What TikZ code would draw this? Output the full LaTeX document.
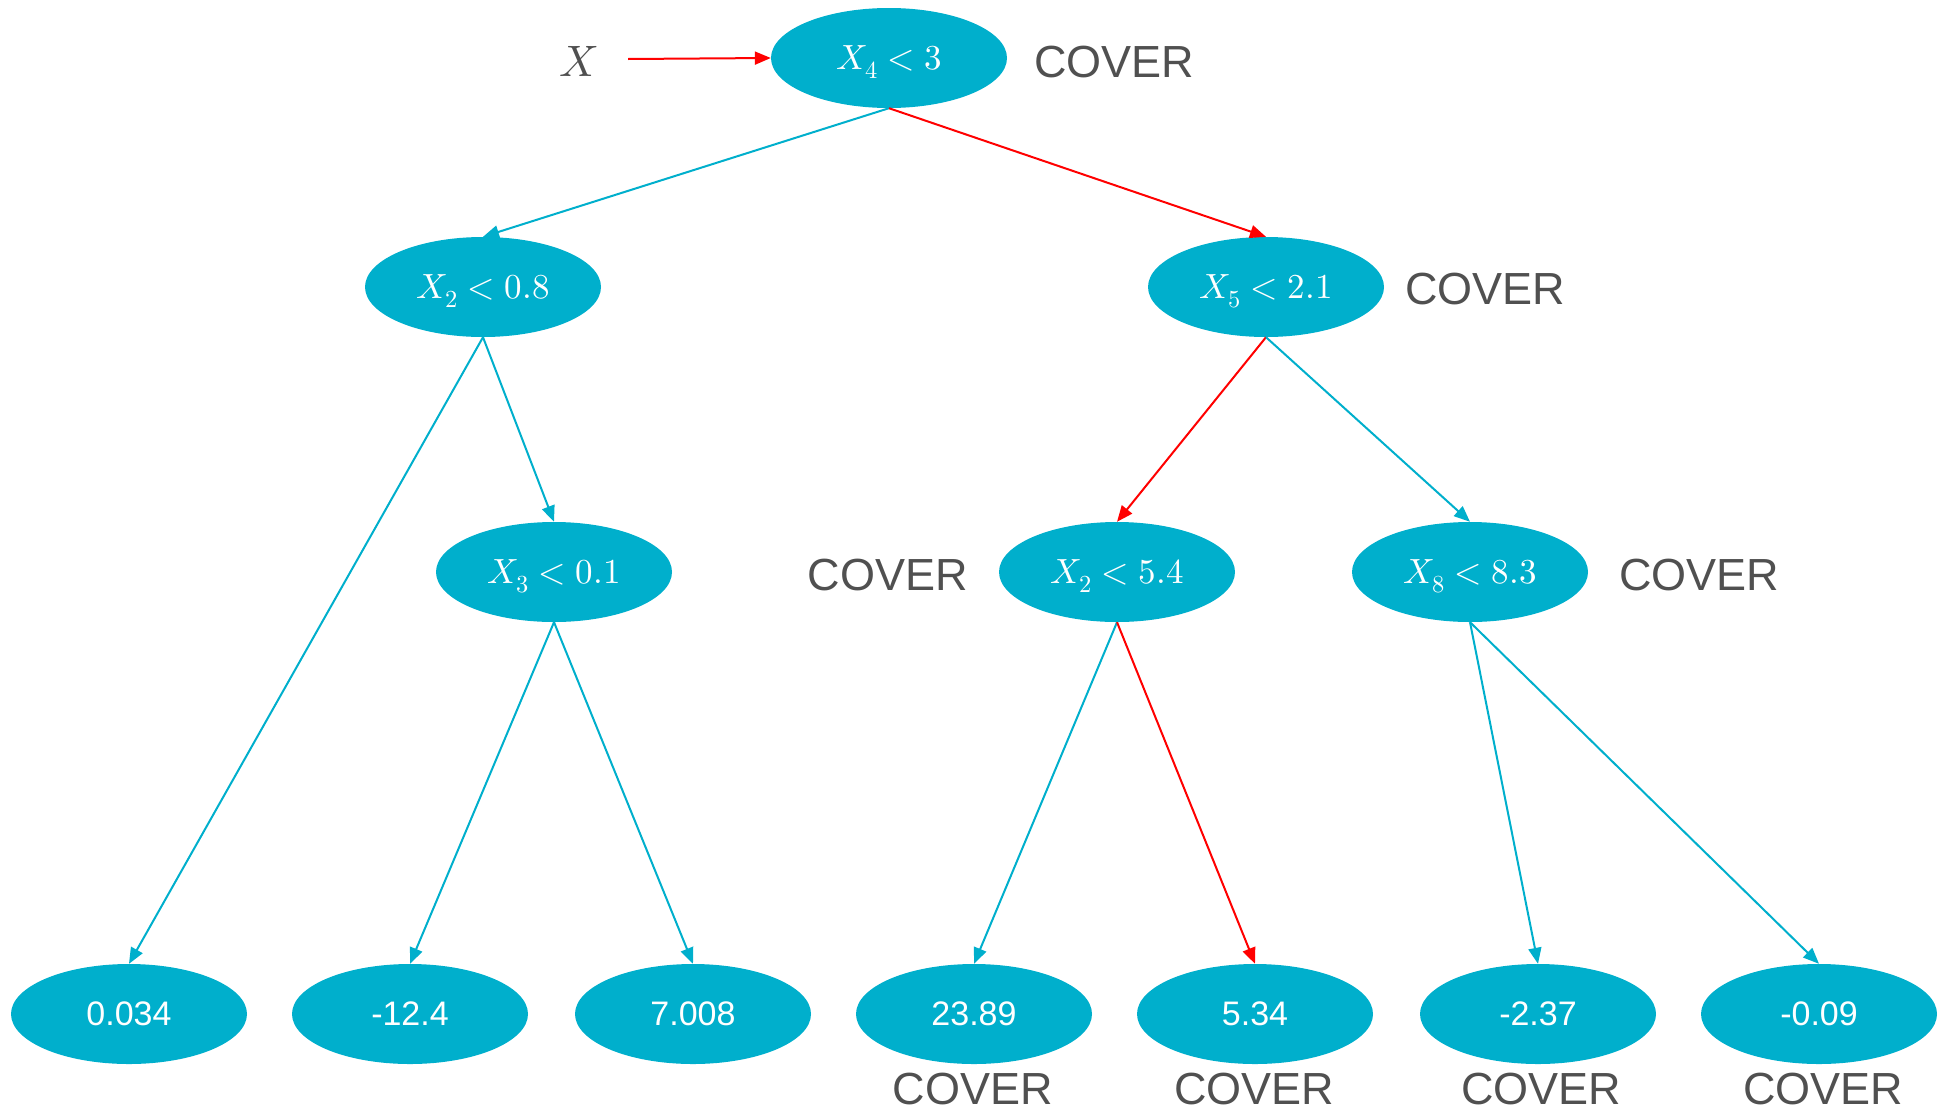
\documentclass[tikz,border=0pt]{standalone}
\usepackage{fontspec}
\usepackage{unicode-math}
\setmainfont{Liberation Sans}
\setmathfont{Latin Modern Math}
\usetikzlibrary{shapes.geometric,arrows.meta}
\definecolor{teal}{RGB}{0,175,204}
\definecolor{covergray}{RGB}{80,80,80}
\definecolor{pathred}{RGB}{255,0,0}
\tikzset{
  tnode/.style={ellipse,fill=teal,draw=none,minimum width=236pt,minimum height=100pt,inner sep=0pt,text=white,text depth=0pt,font=\fontsize{35}{38}\selectfont},
  leaf/.style={tnode,font=\fontsize{34}{38}\selectfont},
  cover/.style={text=covergray,font=\fontsize{45}{50}\selectfont,inner sep=0pt},
  edge/.style={draw=teal,line width=2pt,-{Triangle[length=16pt,width=13pt]}},
  redge/.style={draw=pathred,line width=2pt,-{Triangle[length=16pt,width=13pt]}}
}
\begin{document}
\begin{tikzpicture}[x=1pt,y=-1pt]
\useasboundingbox (0,0) rectangle (1943,1111);
% internal nodes
\node[tnode] (root) at (889,58) {$X_4<3$};
\node[tnode] (a) at (483,287) {$X_2<0.8$};
\node[tnode] (b) at (1266,287) {$X_5<2.1$};
\node[tnode] (c) at (554,572) {$X_3<0.1$};
\node[tnode] (d) at (1117,572) {$X_2<5.4$};
\node[tnode] (e) at (1470,572) {$X_8<8.3$};
% leaves
\node[leaf] (l1) at (129,1014) {0.034};
\node[leaf] (l2) at (410,1014) {-12.4};
\node[leaf] (l3) at (693,1014) {7.008};
\node[leaf] (l4) at (974,1014) {23.89};
\node[leaf] (l5) at (1255,1014) {5.34};
\node[leaf] (l6) at (1538,1014) {-2.37};
\node[leaf] (l7) at (1819,1014) {-0.09};
% input
\node[text=covergray,font=\fontsize{44}{48}\selectfont,inner sep=0pt] (x) at (579,61) {$X$};
\coordinate (xs) at (628,59);
% cover labels
\node[cover] (c0) at (1114,62) {COVER};
\node[cover] (c1) at (1485,289) {COVER};
\node[cover] (c2) at (888,575) {COVER};
\node[cover] (c3) at (1699,575) {COVER};
\node[cover] (c4) at (973,1089) {COVER};
\node[cover] (c5) at (1254,1089) {COVER};
\node[cover] (c6) at (1541,1089) {COVER};
\node[cover] (c7) at (1823,1089) {COVER};
% edges
\draw[redge] (xs) -- (root.west);
\draw[edge] (root.south) -- (a.north);
\draw[redge] (root.south) -- (b.north);
\draw[edge] (a.south) -- (l1.north);
\draw[edge] (a.south) -- (c.north);
\draw[edge] (c.south) -- (l2.north);
\draw[edge] (c.south) -- (l3.north);
\draw[redge] (b.south) -- (d.north);
\draw[edge] (b.south) -- (e.north);
\draw[edge] (d.south) -- (l4.north);
\draw[redge] (d.south) -- (l5.north);
\draw[edge] (e.south) -- (l6.north);
\draw[edge] (e.south) -- (l7.north);
\end{tikzpicture}
\end{document}
